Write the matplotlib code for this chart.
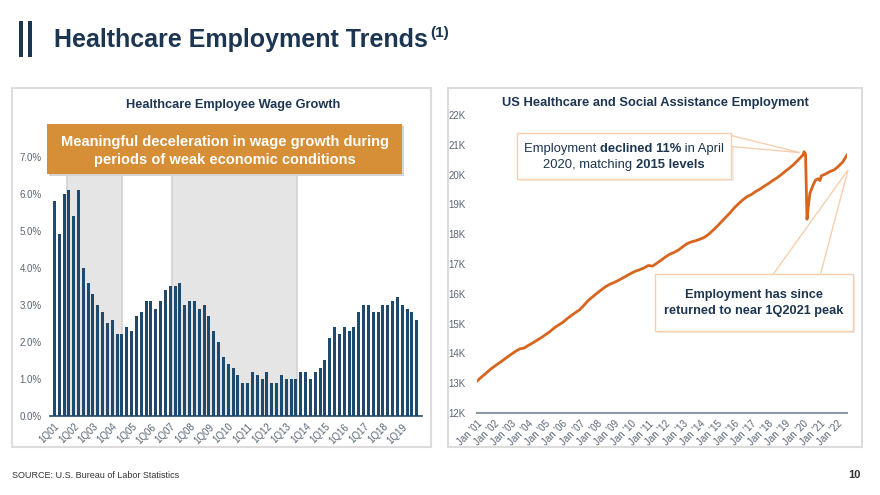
import numpy as np
import pandas as pd
import matplotlib
matplotlib.use("Agg")
import matplotlib.pyplot as plt
from matplotlib.patches import Rectangle, Polygon

plt.rcParams['font.family'] = ['Liberation Sans', 'DejaVu Sans']

# ---- data: wage growth (quarterly, 1Q01 - 4Q19), % y/y
wage_growth = [5.8, 4.9, 6.0, 6.1, 5.4, 6.1, 4.0, 3.6, 3.3, 3.0, 2.8, 2.5, 2.6, 2.2, 2.2, 2.4,
               2.3, 2.7, 2.8, 3.1, 3.1, 2.9, 3.1, 3.4, 3.5, 3.5, 3.6, 3.0, 3.1, 3.1, 2.9, 3.0,
               2.7, 2.3, 2.0, 1.6, 1.4, 1.3, 1.1, 0.9, 0.9, 1.2, 1.1, 1.0, 1.2, 0.9, 0.9, 1.1,
               1.0, 1.0, 1.0, 1.2, 1.2, 1.0, 1.2, 1.3, 1.5, 2.1, 2.4, 2.2, 2.4, 2.3, 2.4, 2.8,
               3.0, 3.0, 2.8, 2.8, 3.0, 3.0, 3.1, 3.2, 3.0, 2.9, 2.8, 2.6]
wage_ticks = ['1Q%02d' % y for y in range(1, 20)]
weak_periods = [(2.6, 14.0), (24.3, 50.2)]   # shaded spans, in bar-index units

# ---- data: healthcare & social assistance employment (thousands)
emp_dates = list(pd.date_range('2001-01-01', '2019-10-01', freq='QS')) + list(pd.to_datetime(
    ['2020-01', '2020-02', '2020-03', '2020-04', '2020-05', '2020-06', '2020-08', '2020-10',
     '2020-12', '2021-01', '2021-02', '2021-05', '2021-08', '2021-11', '2022-02', '2022-05',
     '2022-08']))
emp_values = [13.07, 13.20, 13.32, 13.45, 13.56, 13.66, 13.76, 13.87,
              13.97, 14.07, 14.15, 14.18, 14.27, 14.35, 14.44, 14.53,
              14.63, 14.73, 14.85, 14.95, 15.04, 15.16, 15.27, 15.37,
              15.47, 15.62, 15.78, 15.90, 16.02, 16.13, 16.24, 16.32,
              16.38, 16.45, 16.53, 16.61, 16.69, 16.76, 16.81, 16.87,
              16.95, 16.93, 17.03, 17.13, 17.24, 17.33, 17.39, 17.47,
              17.58, 17.68, 17.74, 17.78, 17.83, 17.89, 17.99, 18.12,
              18.26, 18.41, 18.56, 18.71, 18.88, 19.02, 19.15, 19.26,
              19.33, 19.43, 19.51, 19.61, 19.70, 19.80, 19.89, 20.00,
              20.12, 20.23, 20.35, 20.50,
              20.65, 20.77, 20.68, 18.50, 18.95, 19.37, 19.62, 19.82,
              19.86, 19.80, 19.96, 20.02, 20.10, 20.16, 20.28, 20.42, 20.66]
emp_yticks = [12, 13, 14, 15, 16, 17, 18, 19, 20, 21, 22]

NAVY = '#1c3550'
BAR = '#1f4a6e'
TICK = '#5a6675'
ORANGE = '#d8651e'
CALLOUT_EDGE = '#f7cfae'

W, H = 880, 495
fig = plt.figure(figsize=(8.8, 4.95), dpi=100)


def px(x, y):
    return x / W, 1 - y / H


def box(x0, y0, x1, y1, **kw):
    r = Rectangle(px(x0, y1), (x1 - x0) / W, (y1 - y0) / H, transform=fig.transFigure, **kw)
    fig.add_artist(r)
    return r


def rich_line(cx, cy, parts, size, color):
    renderer = fig.canvas.get_renderer()
    texts = [fig.text(0, 0, s, fontsize=size, fontweight=w, color=color, va='center',
                      ha='left', zorder=6) for s, w in parts]
    widths = [t.get_window_extent(renderer).width for t in texts]
    x = cx - sum(widths) / 2
    for t, wd in zip(texts, widths):
        t.set_position(px(x, cy))
        x += wd


# header
box(19, 21, 23, 57, facecolor=NAVY, edgecolor='none')
box(28, 21, 32, 57, facecolor=NAVY, edgecolor='none')
title = fig.text(*px(54, 40), 'Healthcare Employment Trends', fontsize=18,
                 fontweight='bold', color=NAVY, va='center', ha='left')
tw = title.get_window_extent(fig.canvas.get_renderer()).width
fig.text(*px(54 + tw + 2, 33), '(1)', fontsize=11, fontweight='bold', color=NAVY,
         va='center', ha='left')

# panel frames
box(12, 88, 431, 447, facecolor='none', edgecolor='#dcdcdc', lw=1.5)
box(448, 88, 862, 447, facecolor='none', edgecolor='#dcdcdc', lw=1.5)

# ---------------- left chart
ax1 = fig.add_axes([50 / W, 1 - 416 / H, 372 / W, 289 / H])
x = np.arange(len(wage_growth))
for a, b in weak_periods:
    ax1.axvspan(a, b, facecolor='#e6e5e6', edgecolor='#d2d2d2', lw=1.2, zorder=0)
ax1.bar(x, wage_growth, width=0.62, color=BAR, zorder=2)
ax1.set_xlim(-0.9, len(wage_growth) + 0.1)
ax1.set_ylim(0, 7.8)
ax1.set_yticks(np.arange(0, 8))
ax1.set_yticklabels(['%.1f%%' % v for v in range(8)])
ax1.set_xticks(x[::4][:len(wage_ticks)])
ax1.set_xticklabels(wage_ticks, rotation=45, ha='right', rotation_mode='anchor')
ax1.tick_params(axis='both', length=0, labelsize=7, labelcolor=TICK)
ax1.tick_params(axis='y', pad=6)
ax1.tick_params(axis='x', pad=4)
for s in ['top', 'right', 'left']:
    ax1.spines[s].set_visible(False)
ax1.spines['bottom'].set_color(BAR)
ax1.spines['bottom'].set_linewidth(1.2)
ax1.patch.set_alpha(0)

fig.text(*px(233, 105), 'Healthcare Employee Wage Growth', fontsize=9.2, fontweight='bold',
         color=NAVY, ha='center', va='center')

# orange callout
box(49, 126, 404, 176, facecolor='#d4d4d4', edgecolor='none', zorder=4)
box(47, 124, 402, 174, facecolor='#d68f36', edgecolor='none', zorder=5)
fig.text(*px(225, 142), 'Meaningful deceleration in wage growth during', fontsize=10.5,
         fontweight='bold', color='white', ha='center', va='center', zorder=6)
fig.text(*px(225, 160), 'periods of weak economic conditions', fontsize=10.5,
         fontweight='bold', color='white', ha='center', va='center', zorder=6)

# ---------------- right chart
ax2 = fig.add_axes([477 / W, 1 - 413 / H, 370 / W, 298 / H])
ax2.plot(emp_dates, emp_values, color=ORANGE, lw=2, zorder=3)
ax2.set_xlim(emp_dates[0], emp_dates[-1])
ax2.set_ylim(12, 22)
ax2.set_yticks(emp_yticks)
ax2.set_yticklabels(['%dK' % v for v in emp_yticks])
jan_ticks = pd.date_range('2001-01-01', '2022-01-01', freq='YS')
ax2.set_xticks(jan_ticks)
ax2.set_xticklabels(["Jan '%02d" % (d.year % 100) for d in jan_ticks], rotation=45,
                    ha='right', rotation_mode='anchor')
ax2.tick_params(axis='both', length=0, labelsize=7, labelcolor=TICK)
ax2.tick_params(axis='y', pad=8)
ax2.tick_params(axis='x', pad=4)
for s in ['top', 'right', 'left']:
    ax2.spines[s].set_visible(False)
ax2.spines['bottom'].set_color('#8c9aa8')
ax2.spines['bottom'].set_linewidth(1.5)
ax2.patch.set_alpha(0)

fig.text(*px(655, 103), 'US Healthcare and Social Assistance Employment', fontsize=9.3,
         fontweight='bold', color=NAVY, ha='center', va='center')

# callout tips anchored on the data
to_fig_px = lambda d, v: (lambda p: (p[0], H - p[1]))(ax2.transData.transform(
    (matplotlib.dates.date2num(d), v)))
i_peak = int(np.argmax(emp_values))
tx, ty = to_fig_px(emp_dates[i_peak], emp_values[i_peak])
tip1 = (tx - 4, ty + 1)
ex, ey = to_fig_px(emp_dates[-1], emp_values[-1])
tip2 = (ex + 1, ey + 15)

# callout 1
box(519, 135, 734, 181, facecolor='#ececec', edgecolor='none', zorder=3)
fig.add_artist(Polygon([px(725, 134), px(725, 146), px(*tip1)], closed=True,
                       facecolor='white', edgecolor=CALLOUT_EDGE, lw=1,
                       transform=fig.transFigure, zorder=4))
box(517, 133, 731, 179, facecolor='white', edgecolor=CALLOUT_EDGE, lw=1, zorder=5)
rich_line(624, 149, [('Employment ', 'normal'), ('declined 11%', 'bold'), (' in April', 'normal')],
          9.4, NAVY)
rich_line(624, 165, [('2020, matching ', 'normal'), ('2015 levels', 'bold')], 9.4, NAVY)

# callout 2
fig.add_artist(Polygon([px(772, 276), px(820, 276), px(*tip2)], closed=True,
                       facecolor='white', edgecolor=CALLOUT_EDGE, lw=1,
                       transform=fig.transFigure, zorder=4))
box(657, 276, 855, 333, facecolor='#ececec', edgecolor='none', zorder=3)
box(655, 274, 853, 331, facecolor='white', edgecolor=CALLOUT_EDGE, lw=1, zorder=5)
fig.text(*px(754, 295), 'Employment has since', fontsize=9.2, fontweight='bold', color=NAVY,
         ha='center', va='center', zorder=6)
fig.text(*px(754, 311), 'returned to near 1Q2021 peak', fontsize=9.2, fontweight='bold',
         color=NAVY, ha='center', va='center', zorder=6)

# footer
fig.text(*px(12, 476), 'SOURCE: U.S. Bureau of Labor Statistics', fontsize=6.5, color='#333333',
         ha='left', va='center')
fig.text(*px(861, 475), '10', fontsize=8, fontweight='bold', color='#333333',
         ha='right', va='center')

fig.savefig('out.png', dpi=100)
